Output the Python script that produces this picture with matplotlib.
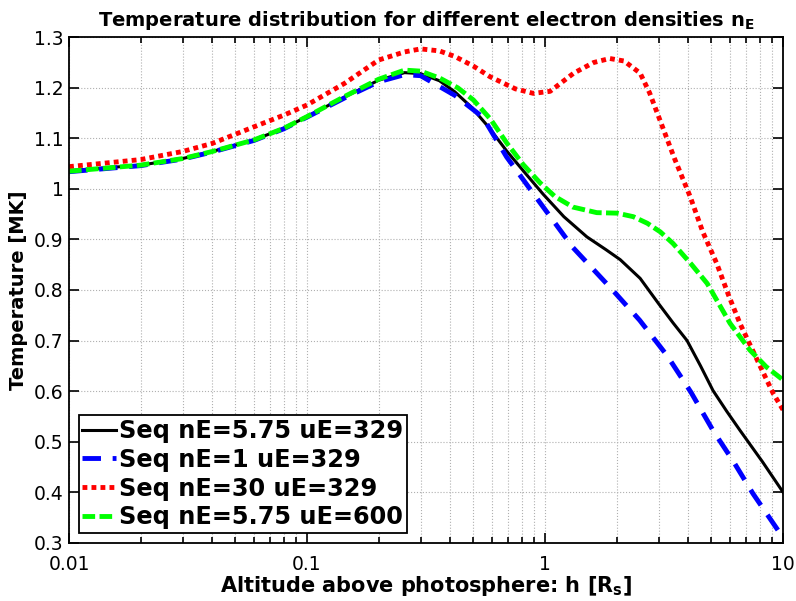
import numpy as np
import matplotlib
matplotlib.use("Agg")
import matplotlib.pyplot as plt
from matplotlib.ticker import LogLocator, NullFormatter

# data (altitude in R_s, temperature in MK)
h_black = [0.01, 0.02, 0.03, 0.04, 0.06, 0.08, 0.10, 0.144, 0.20, 0.257, 0.30, 0.36,
           0.418, 0.49, 0.58, 0.69, 0.83, 0.98, 1.2, 1.50, 1.8, 2.07, 2.51, 3.0, 3.45, 3.95,
           4.5, 5.08, 5.8, 6.6, 8.2, 10.0]
T_black = [1.036, 1.047, 1.060, 1.074, 1.097, 1.120, 1.143, 1.182, 1.215, 1.230, 1.228, 1.214,
           1.192, 1.162, 1.122, 1.075, 1.030, 0.990, 0.945, 0.905, 0.880, 0.860, 0.823, 0.773,
           0.735, 0.700, 0.650, 0.601, 0.560, 0.522, 0.460, 0.40]

h_blue = [0.01, 0.02, 0.03, 0.04, 0.06, 0.08, 0.10, 0.144, 0.20, 0.257, 0.30, 0.418,
          0.548, 0.69, 0.925, 1.31, 1.93, 2.5, 3.26, 4.1, 5.08, 6.2, 7.48, 10.0]
T_blue = [1.034, 1.046, 1.059, 1.073, 1.096, 1.119, 1.142, 1.180, 1.212, 1.226, 1.224, 1.185,
          1.142, 1.063, 0.981, 0.884, 0.799, 0.740, 0.670, 0.598, 0.522, 0.460, 0.397, 0.31]

h_red = [0.01, 0.02, 0.03, 0.04, 0.06, 0.08, 0.10, 0.144, 0.20, 0.257, 0.30, 0.36, 0.418,
         0.50, 0.587, 0.75, 0.893, 1.05, 1.32, 1.60, 1.87, 2.15, 2.51, 2.75, 3.04, 3.5, 4.07,
         4.6, 5.26, 5.9, 6.59, 8.0, 9.1, 10.0]
T_red = [1.044, 1.058, 1.074, 1.090, 1.123, 1.146, 1.166, 1.209, 1.255, 1.271, 1.277, 1.273, 1.262,
         1.243, 1.222, 1.198, 1.189, 1.193, 1.229, 1.250, 1.258, 1.253, 1.229, 1.190, 1.136, 1.060,
         0.985, 0.915, 0.853, 0.790, 0.734, 0.650, 0.595, 0.563]

h_green = [0.01, 0.02, 0.03, 0.04, 0.06, 0.08, 0.10, 0.144, 0.20, 0.257, 0.30, 0.362,
           0.43, 0.50, 0.59, 0.69, 0.81, 0.953, 1.1, 1.31, 1.65, 2.01, 2.35, 2.69, 3.05, 3.45,
           4.1, 4.8, 5.99, 7.26, 8.5, 10.0]
T_green = [1.035, 1.047, 1.060, 1.074, 1.097, 1.120, 1.143, 1.183, 1.217, 1.235, 1.233, 1.219,
           1.200, 1.176, 1.138, 1.091, 1.048, 1.012, 0.985, 0.964, 0.953, 0.952, 0.945, 0.932,
           0.915, 0.892, 0.852, 0.813, 0.734, 0.681, 0.648, 0.622]

labels = ["Seq nE=5.75 uE=329", "Seq nE=1 uE=329", "Seq nE=30 uE=329", "Seq nE=5.75 uE=600"]

plt.rcParams['mathtext.default'] = 'bf'

fig = plt.figure(figsize=(7.96, 6.01), dpi=100)
ax = fig.add_axes([0.0867, 0.097, 0.897, 0.841])

ax.plot(h_black, T_black, color='k', lw=2.2, ls='-', label=labels[0])
ax.plot(h_blue, T_blue, color='b', lw=3.5, ls=(0, (3.8, 2.4)), label=labels[1])
ax.plot(h_red, T_red, color='r', lw=3.5, ls=(0, (1, 0.85)), label=labels[2])
ax.plot(h_green, T_green, color='#00ff00', lw=3.5, ls=(0, (2.6, 0.9)), label=labels[3])

ax.set_xscale('log')
ax.set_xlim(0.01, 10)
ax.set_ylim(0.3, 1.3)
ax.set_yticks(np.arange(0.3, 1.31, 0.1))
ax.set_yticklabels(['0.3', '0.4', '0.5', '0.6', '0.7', '0.8', '0.9', '1', '1.1', '1.2', '1.3'])
ax.set_xticks([0.01, 0.1, 1, 10])
ax.set_xticklabels(['0.01', '0.1', '1', '10'])
ax.xaxis.set_minor_locator(LogLocator(base=10, subs=np.arange(2, 10)))
ax.xaxis.set_minor_formatter(NullFormatter())

ax.grid(True, which='major', ls=':', color='#b0b0b0', lw=0.8)
ax.grid(True, which='minor', axis='x', ls=':', color='#b0b0b0', lw=0.8)
ax.tick_params(which='both', direction='in', top=True, right=True, width=1.2)
ax.tick_params(which='major', length=7, labelsize=13.5)
ax.tick_params(axis='x', which='major', pad=8.5)
ax.tick_params(axis='y', which='major', pad=4)
ax.tick_params(which='minor', length=4)
for sp in ax.spines.values():
    sp.set_linewidth(1.3)

ax.set_title(r'Temperature distribution for different electron densities n$_\mathbf{E}$',
             fontsize=14, fontweight='bold', pad=8)
ax.set_xlabel(r'Altitude above photosphere: h [R$_\mathbf{s}$]', fontsize=15,
              fontweight='bold', labelpad=0.5)
ax.set_ylabel('Temperature [MK]', fontsize=14, fontweight='bold', labelpad=4)

leg = ax.legend(loc='lower left', prop={'weight': 'bold', 'size': 17.3},
                handlelength=1.4, handletextpad=0.15, labelspacing=0.2,
                borderpad=0.15, borderaxespad=0.4, fancybox=False, framealpha=1)
leg.get_frame().set_edgecolor('k')
leg.get_frame().set_linewidth(1.3)

fig.savefig('out.png', dpi=100)
